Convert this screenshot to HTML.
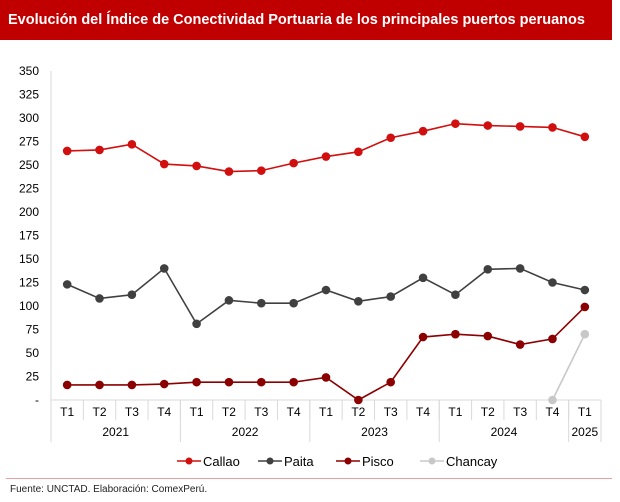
<!DOCTYPE html>
<html><head><meta charset="utf-8"><style>
body{margin:0;width:620px;height:502px;background:#fff;font-family:"Liberation Sans",sans-serif;overflow:hidden;position:relative}
#title{position:absolute;left:0;top:0;width:612px;height:40px;background:#c00000;color:#fff;font-weight:bold;font-size:14.5px;line-height:40px;padding-left:8px;box-sizing:border-box}
#foot{position:absolute;left:10px;top:484px;font-size:10px;color:#222}
#rule{position:absolute;left:6px;top:478px;width:606px;height:1px;background:#e8a0a0}
</style></head><body>
<div id="title">Evolución del Índice de Conectividad Portuaria de los principales puertos peruanos</div>
<svg id="chart" width="620" height="502" style="position:absolute;left:0;top:0"></svg>
<div id="rule"></div>
<div id="foot">Fuente: UNCTAD. Elaboración: ComexPerú.</div>
<script>
const quarters=["T1","T2","T3","T4","T1","T2","T3","T4","T1","T2","T3","T4","T1","T2","T3","T4","T1"];
const years=["2021","2022","2023","2024","2025"];
const yearSpans=[4,4,4,4,1];
const yTicks=[0,25,50,75,100,125,150,175,200,225,250,275,300,325,350];
const callao=[265,266,272,251,249,243,244,252,259,264,279,286,294,292,291,290,280];
const paita=[123,108,112,140,81,106,103,103,117,105,110,130,112,139,140,125,117];
const pisco=[16,16,16,17,19,19,19,19,24,0,19,67,70,68,59,65,99];
const chancay=[null,null,null,null,null,null,null,null,null,null,null,null,null,null,null,0,70];
const seriesNames=["Callao","Paita","Pisco","Chancay"];
const seriesColors=["#d10f0f","#404040","#8b0000","#c8c8c8"];
const seriesData=[callao,paita,pisco,chancay];
const NS="http://www.w3.org/2000/svg";
const svg=document.getElementById('chart');
const L=51,R=601,T=71,B=400;
const bw=(R-L)/quarters.length;
const x=i=>L+bw*(i+0.5);
const y=v=>B-(v/350)*(B-T);
function mk(tag,attrs,parent){const e=document.createElementNS(NS,tag);for(const k in attrs)e.setAttribute(k,attrs[k]);(parent||svg).appendChild(e);return e;}
let ax=mk('line',{x1:L,y1:T,x2:L,y2:B,stroke:'#d9d9d9'});


let xa=mk('line',{x1:L,y1:B,x2:R,y2:B,stroke:'#d9d9d9'});


yTicks.forEach(v=>{const t=mk('text',{x:39,y:y(v)+4,'text-anchor':'end','font-size':'12',fill:'#000'});t.textContent=v===0?'-':v;

});
quarters.forEach((q,i)=>{const t=mk('text',{x:x(i),y:416,'text-anchor':'middle','font-size':'12',fill:'#000'});t.textContent=q;


mk('line',{x1:L+bw*(i+1),y1:B,x2:L+bw*(i+1),y2:420,stroke:'#d9d9d9'});});
let start=0;
years.forEach((yr,k)=>{const s=yearSpans[k];const cx=L+bw*(start+s/2);
const t=mk('text',{x:cx,y:436,'text-anchor':'middle','font-size':'12',fill:'#000'});t.textContent=yr;


start+=s;mk('line',{x1:L+bw*start,y1:B,x2:L+bw*start,y2:442,stroke:'#d9d9d9'});});
mk('line',{x1:L,y1:B,x2:L,y2:442,stroke:'#d9d9d9'});
seriesData.forEach((d,si)=>{const g=mk('g',{});


let pts=[];d.forEach((v,i)=>{if(v!==null)pts.push(x(i)+','+y(v));});
mk('polyline',{points:pts.join(' '),fill:'none',stroke:seriesColors[si],'stroke-width':'1.6'},g);
d.forEach((v,i)=>{if(v===null)return;const c=mk('circle',{cx:x(i),cy:y(v),r:4.3,fill:seriesColors[si]},g);

});});
const lx=[177,258,336,420];
seriesNames.forEach((n,i)=>{const g=mk('g',{});


mk('line',{x1:lx[i],y1:461,x2:lx[i]+24,y2:461,stroke:seriesColors[i],'stroke-width':'1.6'},g);
mk('circle',{cx:lx[i]+12,cy:461,r:3.5,fill:seriesColors[i]},g);
const t=mk('text',{x:lx[i]+26,y:466,'font-size':'13',fill:'#000'},g);t.textContent=n;});
</script>
</body></html>
